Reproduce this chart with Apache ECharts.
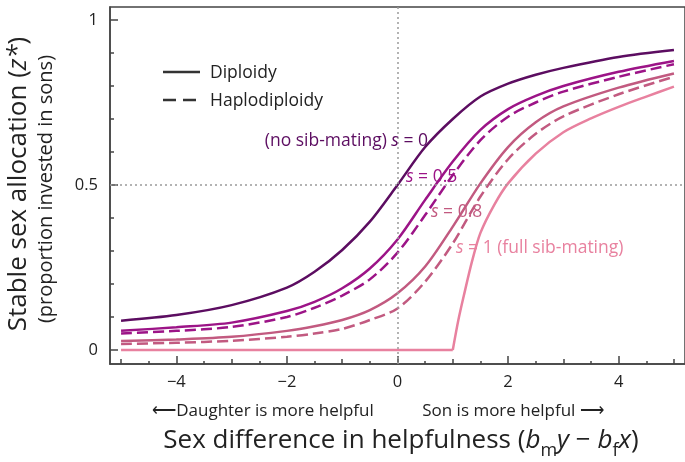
<!DOCTYPE html>
<html>
<head>
<meta charset="utf-8">
<script src="https://cdn.jsdelivr.net/npm/echarts@6/dist/echarts.min.js"></script>
<style>
  html, body { margin: 0; padding: 0; background: #fff; }
  #chart { width: 685px; height: 462px; }
</style>
</head>
<body>
<div id="chart"></div>
<script>
// x values shared by the smooth curves
const xs = [-5, -4, -3, -2, -1.5, -1, -0.5, 0, 0.5, 1, 1.5, 2, 2.5, 3, 4, 5];
// s = 0 (diploidy and haplodiploidy coincide)
const dipS0 = [0.089, 0.106, 0.136, 0.189, 0.237, 0.303, 0.389, 0.5, 0.615, 0.70, 0.768, 0.807, 0.834, 0.855, 0.888, 0.909];
// s = 0.5
const dipS05 = [0.058, 0.069, 0.083, 0.118, 0.146, 0.187, 0.247, 0.335, 0.455, 0.571, 0.667, 0.73, 0.77, 0.80, 0.843, 0.876];
const hapS05 = [0.050, 0.058, 0.070, 0.100, 0.128, 0.165, 0.214, 0.295, 0.409, 0.530, 0.636, 0.707, 0.75, 0.783, 0.828, 0.866];
// s = 0.8
const dipS08 = [0.027, 0.032, 0.040, 0.058, 0.072, 0.091, 0.121, 0.172, 0.253, 0.374, 0.505, 0.615, 0.69, 0.738, 0.795, 0.838];
const hapS08 = [0.018, 0.022, 0.028, 0.040, 0.050, 0.064, 0.091, 0.126, 0.207, 0.323, 0.465, 0.578, 0.655, 0.708, 0.775, 0.828];
// s = 1: flat at zero up to x = 1, then rising
const xsS1Flat = [-5, 1];
const dipS1Flat = [0, 0];
const xsS1Rise = [1, 1.1, 1.2, 1.35, 1.5, 1.75, 2, 2.5, 3, 3.5, 4, 4.5, 5];
const dipS1Rise = [0, 0.09, 0.165, 0.27, 0.355, 0.44, 0.505, 0.595, 0.66, 0.702, 0.737, 0.768, 0.798];

// ticks
const xLabels = [-4, -2, 0, 2, 4];
const xMidTicks = [-5, -3, -1, 1, 3, 5];
const xMinorTicks = [-4.5, -3.5, -2.5, -1.5, -0.5, 0.5, 1.5, 2.5, 3.5, 4.5];
const yLabels = [0, 0.5, 1];
const yMinorTicks = [0.1, 0.2, 0.3, 0.4, 0.6, 0.7, 0.8, 0.9];

const colors = { s0: '#5c0d61', s05: '#9c1487', s08: '#c25a80', s1: '#e8819f' };
const FONT = '"Open Sans", "Noto Sans", sans-serif';
const axisColor = '#444';

function zip(x, y) {
    return x.map((v, i) => [v, y[i]]);
}

function curve(name, x, y, color, dashed, smooth) {
    return {
        name: name,
        type: 'line',
        data: zip(x, y),
        showSymbol: false,
        smooth: smooth === undefined ? 0.3 : smooth,
        z: 3,
        lineStyle: { color: color, width: 2.5, type: dashed ? [11, 5] : 'solid', cap: 'butt' }
    };
}

function xAxisBase(ticks, len, withLine) {
    return {
        type: 'value', min: -5.2, max: 5.2, position: 'bottom',
        axisLine: { show: withLine, onZero: false, lineStyle: { color: axisColor, width: 1.5 } },
        axisTick: { show: true, inside: true, length: len, customValues: ticks, lineStyle: { color: axisColor, width: 1.5 } },
        axisLabel: { show: false },
        splitLine: { show: false }
    };
}

function yAxisBase(ticks, len, withLine) {
    return {
        type: 'value', min: -0.0424, max: 1.0394, position: 'left',
        axisLine: { show: withLine, onZero: false, lineStyle: { color: axisColor, width: 1.5 } },
        axisTick: { show: true, inside: true, length: len, customValues: ticks, lineStyle: { color: axisColor, width: 1.5 } },
        axisLabel: { show: false },
        splitLine: { show: false }
    };
}

const xMain = xAxisBase(xLabels, 8, true);
xMain.axisLabel = {
    show: true, customValues: xLabels, margin: 10, fontSize: 16.5, color: '#222', fontFamily: FONT,
    formatter: v => (v < 0 ? '\u2212' + Math.abs(v) : String(v))
};
const yMain = yAxisBase(yLabels, 8, true);
yMain.axisLabel = { show: true, customValues: yLabels, margin: 12, fontSize: 16.5, color: '#222', fontFamily: FONT };

const chart = echarts.init(document.getElementById('chart'));

function label(text, x, y, color, align) {
    return {
        type: 'text', x: x, y: y, z: 10,
        style: {
            text: text, align: align || 'left', verticalAlign: 'middle',
            font: '17.5px ' + FONT, fill: color,
            rich: { i: { fontStyle: 'italic', fontSize: 17.5, fontFamily: FONT, fill: color } }
        }
    };
}

const option = {
    animation: false,
    grid: { left: 110, right: -2, top: 7, bottom: 98, show: true, borderColor: axisColor, borderWidth: 1.5 },
    xAxis: [xMain, xAxisBase(xMidTicks, 5, false), xAxisBase(xMinorTicks, 3, false)],
    yAxis: [yMain, yAxisBase(yMinorTicks, 4, false)],
    series: [
        {
            type: 'line', data: [], z: 1,
            markLine: {
                silent: true, symbol: ['none', 'none'], label: { show: false },
                lineStyle: { color: '#9a9a9a', width: 1.5, type: [2, 3] },
                data: [{ xAxis: 0 }, { yAxis: 0.5 }]
            }
        },
        curve('s1 flat', xsS1Flat, dipS1Flat, colors.s1, false, false),
        curve('s1', xsS1Rise, dipS1Rise, colors.s1, false, 0.3),
        curve('s08 dip', xs, dipS08, colors.s08, false),
        curve('s08 hap', xs, hapS08, colors.s08, true),
        curve('s05 dip', xs, dipS05, colors.s05, false),
        curve('s05 hap', xs, hapS05, colors.s05, true),
        curve('s0', xs, dipS0, colors.s0, false)
    ],
    graphic: [
        // legend
        { type: 'line', shape: { x1: 163, y1: 72, x2: 200, y2: 72 }, style: { stroke: '#333', lineWidth: 2.5 } },
        { type: 'line', shape: { x1: 163, y1: 100, x2: 200, y2: 100 }, style: { stroke: '#333', lineWidth: 2.5, lineDash: [13, 7] } },
        { type: 'text', x: 210, y: 73, style: { text: 'Diploidy', font: '17.5px ' + FONT, fill: '#222', verticalAlign: 'middle' } },
        { type: 'text', x: 210, y: 101, style: { text: 'Haplodiploidy', font: '17.5px ' + FONT, fill: '#222', verticalAlign: 'middle' } },
        // curve labels
        label('(no sib-mating) {i|s} = 0', 428, 141, colors.s0, 'right'),
        label('{i|s} = 0.5', 406, 177, colors.s05),
        label('{i|s} = 0.8', 431, 212, colors.s08),
        label('{i|s} = 1 (full sib-mating)', 456, 248, colors.s1),
        // y axis titles
        {
            type: 'text', x: 19, y: 184, rotation: Math.PI / 2,
            style: {
                text: 'Stable sex allocation ({i|z*})', align: 'center', verticalAlign: 'middle',
                font: '26px ' + FONT, fill: '#222',
                rich: { i: { fontStyle: 'italic', fontSize: 26, fontFamily: FONT, fill: '#222' } }
            }
        },
        {
            type: 'text', x: 46, y: 189, rotation: Math.PI / 2,
            style: { text: '(proportion invested in sons)', align: 'center', verticalAlign: 'middle', font: '20px ' + FONT, fill: '#222' }
        },
        // x axis titles
        {
            type: 'text', x: 263, y: 411,
            style: { text: '\u27f5Daughter is more helpful', align: 'center', verticalAlign: 'middle', font: '17px ' + FONT, fill: '#222' }
        },
        {
            type: 'text', x: 513, y: 411,
            style: { text: 'Son is more helpful \u27f6', align: 'center', verticalAlign: 'middle', font: '17px ' + FONT, fill: '#222' }
        },
        {
            type: 'text', x: 401, y: 441,
            style: {
                text: 'Sex difference in helpfulness ({i|b}{sub|m}{i|y} \u2212 {i|b}{sub|f}{i|x})',
                align: 'center', verticalAlign: 'middle', font: '26px ' + FONT, fill: '#222',
                rich: {
                    i: { fontStyle: 'italic', fontSize: 26, fontFamily: FONT, fill: '#222', lineHeight: 32 },
                    sub: { fontSize: 18, fontFamily: FONT, fill: '#222', verticalAlign: 'bottom', lineHeight: 37 }
                }
            }
        }
    ]
};

chart.setOption(option);
</script>
</body>
</html>
